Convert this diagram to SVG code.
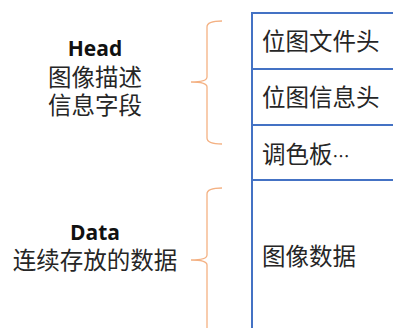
<svg xmlns="http://www.w3.org/2000/svg" width="393" height="328" viewBox="0 0 393 328">
<style>
.cj{font-family:"Noto Sans CJK SC","Microsoft YaHei",sans-serif;font-size:23.5px;fill:#262626}
.en{font-family:"Open Sans","Noto Sans",sans-serif;font-size:21px;font-weight:bold;fill:#111}
.brace{fill:none;stroke:#F4B183;stroke-width:1.3}
.cell{fill:none;stroke:#4472C4;stroke-width:2}
</style>
<rect width="393" height="328" fill="#fff"/>
<g id="head-label">
<text class="en" x="95" y="56" text-anchor="middle">Head</text>
<text class="cj" x="95" y="86" text-anchor="middle">图像描述</text>
<text class="cj" x="95" y="114" text-anchor="middle">信息字段</text>
</g>
<g id="data-label">
<text class="en" x="95" y="240" text-anchor="middle">Data</text>
<text class="cj" x="95" y="269" text-anchor="middle">连续存放的数据</text>
</g>
<g id="connectors">
<path class="brace" d="M222,21 Q207,21 207,27 L207,77 Q207,82 191,82 Q207,82 207,87 L207,138 Q207,144 222,144"/>
<path class="brace" d="M222,188 Q207,188 207,194 L207,255 Q207,260 191,260 Q207,260 207,265 L207,330"/>
</g>
<g id="table">
<path class="cell" d="M394,13 L252,13 L252,330"/>
<line class="cell" x1="252" y1="69" x2="394" y2="69"/>
<line class="cell" x1="252" y1="125" x2="394" y2="125"/>
<line class="cell" x1="252" y1="180" x2="394" y2="180"/>
</g>
<g id="cell1"><text class="cj" x="262" y="50">位图文件头</text></g>
<g id="cell2"><text class="cj" x="262" y="106">位图信息头</text></g>
<g id="cell3"><text class="cj" x="262" y="163">调色板<tspan font-size="17">…</tspan></text></g>
<g id="cell4"><text class="cj" x="262" y="265">图像数据</text></g>
</svg>
